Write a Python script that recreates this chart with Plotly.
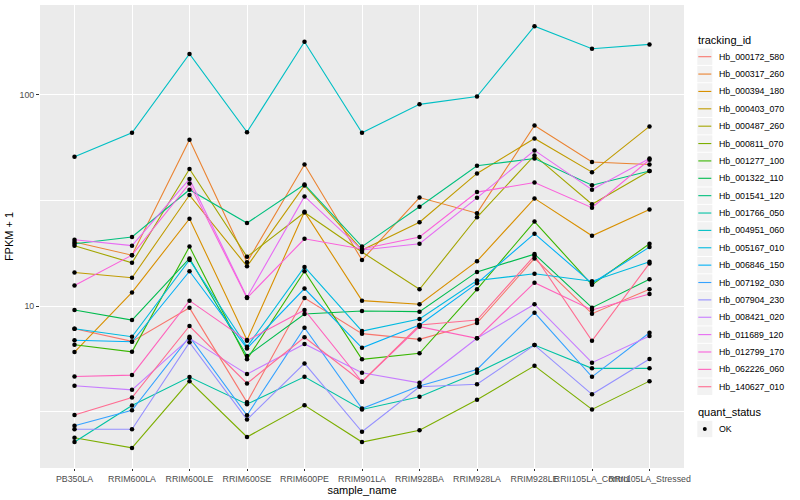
import plotly.graph_objects as go

sample_names = ["PB350LA", "RRIM600LA", "RRIM600LE", "RRIM600SE", "RRIM600PE",
                "RRIM901LA", "RRIM928BA", "RRIM928LA", "RRIM928LE",
                "RRII105LA_Control", "RRII105LA_Stressed"]

hb_000172_580 = [7.8, 6.8, 9.8, 3.5, 10.9, 7.4, 6.95, 8.3, 16.8, 9.2, 12.0]
hb_000317_260 = [20.1, 17.4, 61.2, 16.1, 46.7, 16.5, 32.6, 27.5, 71.5, 48.0, 46.7]
hb_000394_180 = [6.05, 11.6, 25.9, 6.9, 27.9, 10.6, 10.2, 16.3, 32.3, 21.5, 28.6]
hb_000403_070 = [14.4, 13.6, 33.5, 15.4, 37.2, 18.4, 24.9, 42.4, 62.1, 43.0, 70.8]
hb_000487_260 = [19.3, 16.0, 44.5, 17.1, 27.7, 18.0, 12.0, 26.3, 51.6, 30.3, 43.5]
hb_000811_070 = [2.38, 2.13, 4.41, 2.40, 3.39, 2.27, 2.58, 3.60, 5.21, 3.24, 4.41]
hb_001277_100 = [6.56, 6.07, 19.1, 5.59, 14.6, 5.59, 5.97, 12.0, 25.1, 12.6, 19.7]
hb_001322_110 = [9.57, 8.58, 16.8, 5.80, 9.17, 9.47, 9.40, 14.5, 17.6, 9.82, 13.4]
hb_001541_120 = [19.7, 21.2, 35.5, 24.7, 37.6, 19.1, 29.5, 46.1, 49.9, 37.3, 43.5]
hb_001766_050 = [2.27, 3.38, 4.61, 3.43, 4.62, 3.24, 3.72, 4.83, 6.53, 5.07, 5.07]
hb_004951_060 = [50.8, 66.0, 156.0, 66.5, 178.0, 66.0, 90.0, 98.0, 211.0, 165.0, 173.0]
hb_005167_010 = [7.81, 7.15, 16.5, 6.41, 15.3, 7.61, 8.68, 13.2, 14.2, 13.1, 16.2]
hb_006846_150 = [6.88, 6.77, 14.6, 6.30, 12.1, 6.34, 8.13, 12.8, 22.0, 12.8, 19.0]
hb_007192_030 = [2.71, 3.21, 7.15, 3.04, 7.89, 3.27, 4.18, 5.01, 9.30, 4.62, 7.47]
hb_007904_230 = [2.61, 2.61, 6.73, 2.90, 5.35, 2.54, 4.15, 4.26, 6.53, 3.82, 5.61]
hb_008421_020 = [4.19, 4.01, 7.03, 4.76, 6.61, 4.83, 4.33, 7.03, 10.2, 5.39, 7.21]
hb_011689_120 = [20.6, 19.3, 39.9, 11.0, 33.0, 18.4, 19.7, 32.5, 54.5, 35.5, 49.9]
hb_012799_170 = [12.5, 17.4, 38.0, 10.9, 20.8, 18.6, 21.2, 34.6, 38.4, 29.2, 49.2]
hb_062226_060 = [4.64, 4.71, 10.6, 6.85, 9.57, 4.38, 7.98, 7.03, 12.9, 9.57, 11.4]
hb_140627_010 = [3.05, 3.69, 8.04, 4.30, 7.11, 4.38, 8.13, 8.58, 17.3, 6.85, 15.9]

tracking_ids = ["Hb_000172_580", "Hb_000317_260", "Hb_000394_180", "Hb_000403_070",
                "Hb_000487_260", "Hb_000811_070", "Hb_001277_100", "Hb_001322_110",
                "Hb_001541_120", "Hb_001766_050", "Hb_004951_060", "Hb_005167_010",
                "Hb_006846_150", "Hb_007192_030", "Hb_007904_230", "Hb_008421_020",
                "Hb_011689_120", "Hb_012799_170", "Hb_062226_060", "Hb_140627_010"]

series_values = [hb_000172_580, hb_000317_260, hb_000394_180, hb_000403_070,
                 hb_000487_260, hb_000811_070, hb_001277_100, hb_001322_110,
                 hb_001541_120, hb_001766_050, hb_004951_060, hb_005167_010,
                 hb_006846_150, hb_007192_030, hb_007904_230, hb_008421_020,
                 hb_011689_120, hb_012799_170, hb_062226_060, hb_140627_010]

quant_status = ["OK"]

colors = ["#F8766D", "#EA8331", "#D89000", "#C09B00", "#A3A500", "#7CAE00",
          "#39B600", "#00BB4E", "#00BF7D", "#00C1A3", "#00BFC4", "#00BAE0",
          "#00B0F6", "#35A2FF", "#9590FF", "#C77CFF", "#E76BF3", "#FA62DB",
          "#FF62BC", "#FF6C91"]

FONT = "Liberation Sans, Arial, sans-serif"
W, H = 800, 500
ML, MR, MT, MB = 40, 116, 5, 32
PW, PH = W - ML - MR, H - MT - MB


def px(x):
    return (x - ML) / PW


def py(y):
    return (H - MB - y) / PH


fig = go.Figure()
for name, vals, col in zip(tracking_ids, series_values, colors):
    fig.add_trace(go.Scatter(x=sample_names, y=vals, mode="lines", name=name,
                             line=dict(color=col, width=1.1), showlegend=False))

all_x = [s for _ in series_values for s in sample_names]
all_y = [v for vals in series_values for v in vals]
fig.add_trace(go.Scatter(x=all_x, y=all_y, mode="markers", name=quant_status[0],
                         marker=dict(color="black", size=4.5, symbol="circle"),
                         showlegend=False))

# ggplot-style legend keys
shapes = []
annotations = []
annotations.append(dict(x=px(696), y=py(40.5), xref="paper", yref="paper",
                        text="tracking_id", showarrow=False, xanchor="left",
                        yanchor="middle", font=dict(size=11, color="black")))
key_x0, key_x1 = 697.3, 712.3
step = 17.37
for i, (name, col) in enumerate(zip(tracking_ids, colors)):
    cy = 56.7 + i * step
    shapes.append(dict(type="rect", xref="paper", yref="paper",
                       x0=px(key_x0), x1=px(key_x1), y0=py(cy - 8.2), y1=py(cy + 8.2),
                       fillcolor="#F2F2F2", line=dict(width=0), layer="above"))
    shapes.append(dict(type="line", xref="paper", yref="paper",
                       x0=px(key_x0 + 1), x1=px(key_x1 - 1), y0=py(cy), y1=py(cy),
                       line=dict(color=col, width=1.1), layer="above"))
    annotations.append(dict(x=px(716.5), y=py(cy), xref="paper", yref="paper",
                            text=name, showarrow=False, xanchor="left",
                            yanchor="middle", font=dict(size=8.8, color="black")))

annotations.append(dict(x=px(696), y=py(411.7), xref="paper", yref="paper",
                        text="quant_status", showarrow=False, xanchor="left",
                        yanchor="middle", font=dict(size=11, color="black")))
cy = 429
shapes.append(dict(type="rect", xref="paper", yref="paper",
                   x0=px(key_x0), x1=px(key_x1), y0=py(cy - 8.2), y1=py(cy + 8.2),
                   fillcolor="#F2F2F2", line=dict(width=0), layer="above"))
shapes.append(dict(type="circle", xref="paper", yref="paper",
                   x0=px(702.8), x1=px(706.8), y0=py(cy - 2), y1=py(cy + 2),
                   fillcolor="black", line=dict(width=0), layer="above"))
annotations.append(dict(x=px(716.5), y=py(cy), xref="paper", yref="paper",
                        text=quant_status[0], showarrow=False, xanchor="left",
                        yanchor="middle", font=dict(size=8.8, color="black")))

fig.update_layout(
    width=W, height=H,
    margin=dict(l=ML, r=MR, t=MT, b=MB, autoexpand=False),
    paper_bgcolor="white",
    plot_bgcolor="#EBEBEB",
    font=dict(family=FONT, size=9, color="#4D4D4D"),
    showlegend=False,
    shapes=shapes,
    annotations=annotations,
)

fig.update_xaxes(
    type="category", range=[-0.6, 10.6],
    showgrid=True, gridcolor="white", gridwidth=1.1,
    ticks="outside", ticklen=2, tickcolor="#333333", tickangle=0,
    tickfont=dict(size=8.8, color="#4D4D4D"),
    title=dict(text="sample_name", font=dict(size=11, color="black"), standoff=0),
    zeroline=False, showline=False,
)
fig.update_yaxes(
    type="log", range=[0.2333, 2.4245],
    tickvals=[10, 100], ticktext=["10", "100"],
    showgrid=True, gridcolor="white", gridwidth=1.1,
    minor=dict(tickvals=[3.1623, 31.623], showgrid=True, gridcolor="white",
               gridwidth=0.5, ticks=""),
    ticks="outside", ticklen=3, tickcolor="#333333",
    tickfont=dict(size=8.8, color="#4D4D4D"),
    title=dict(text="FPKM + 1", font=dict(size=11, color="black"), standoff=3),
    zeroline=False, showline=False,
)

fig.write_html("out.html", config={"displayModeBar": False},
               post_script="document.body.style.margin='0';")
